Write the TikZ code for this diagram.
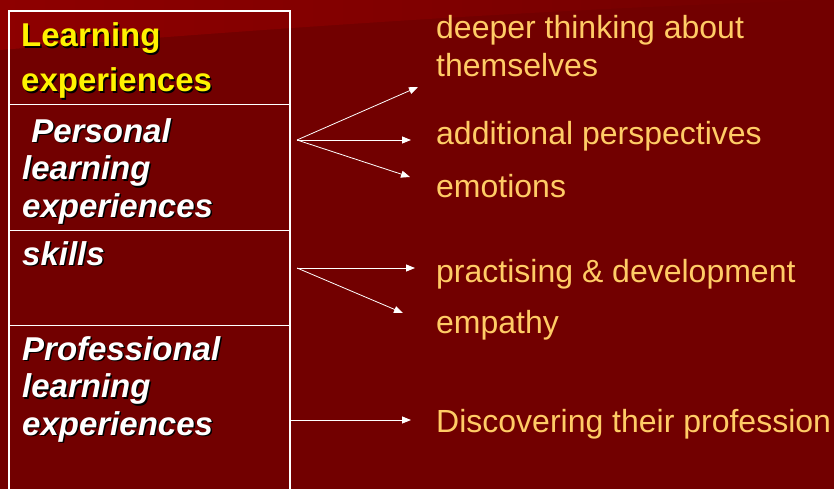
\documentclass[tikz,border=0pt]{standalone}
\usepackage{fontspec}
\setmainfont{Liberation Sans}
\usetikzlibrary{arrows.meta}

\definecolor{slidered}{RGB}{114,0,0}
\definecolor{slidelight}{RGB}{142,0,0}
\definecolor{itemorange}{RGB}{255,204,102}

% text with a small dark drop shadow
\newcommand{\shadowed}[1]{\leavevmode\rlap{\kern1.5pt\raisebox{-1.5pt}{\color{black}#1}}#1}

\tikzset{
    headtext/.style={anchor=base west, inner sep=0pt, align=left, text=yellow,
        font=\fontsize{33}{45}\selectfont\bfseries},
    rowtext/.style={anchor=base west, inner sep=0pt, align=left, text=white,
        font=\fontsize{33}{37.5}\selectfont\bfseries\itshape},
    itemtext/.style={anchor=base west, inner sep=0pt, align=left, text=itemorange,
        font=\fontsize{32}{38}\selectfont},
    link/.style={draw=white, line width=0.8pt, -{Triangle[length=9pt,width=7pt]}}
}

\begin{document}
\begin{tikzpicture}[x=1pt,y=-1pt]

    % background of the slide
    \fill[slidered] (0,0) rectangle (834,489);
    \shade[left color=slidelight, right color=slidered]
        (0,0) -- (0,50) .. controls (250,30) and (550,8) .. (834,0) -- cycle;
    \useasboundingbox (0,0) rectangle (834,489);

    % the table on the left
    \draw[white, line width=2pt] (9,500) -- (9,11) -- (290,11) -- (290,500);
    \draw[white, line width=1pt] (9,105) -- (290,105);
    \draw[white, line width=1pt] (9,230) -- (290,230);
    \draw[white, line width=1pt] (9,325) -- (290,325);

    % cells (nodes sit on the baseline of their last line)
    \node[headtext] (head) at (21,92) {\shadowed{Learning}\\\shadowed{experiences}};
    \node[rowtext] (pers) at (22,217) {\shadowed{\ Personal}\\\shadowed{learning}\\\shadowed{experiences}};
    \node[rowtext] (skl) at (22,265) {\shadowed{skills}};
    \node[rowtext] (prof) at (22,435) {\shadowed{Professional}\\\shadowed{learning}\\\shadowed{experiences}};

    % outcomes on the right
    \node[itemtext] (deeper) at (436,77) {deeper thinking about\\themselves};
    \node[itemtext] (persp) at (436,145) {additional perspectives};
    \node[itemtext] (emot) at (436,197) {emotions};
    \node[itemtext] (pract) at (436,282) {practising \& development};
    \node[itemtext] (empa) at (436,333) {empathy};
    \node[itemtext] (disc) at (436,432) {Discovering their profession};

    % arrow ends
    \coordinate (pers-out) at (297,140);
    \coordinate (skl-out) at (297,268);
    \coordinate (prof-out) at (291,420);
    \coordinate (deeper-in) at (418,87);
    \coordinate (persp-in) at (411,140);
    \coordinate (emot-in) at (410,177);
    \coordinate (pract-in) at (415,268);
    \coordinate (empa-in) at (403,313);
    \coordinate (disc-in) at (411,420);

    \draw[link] (pers-out) -- (deeper-in);
    \draw[link] (pers-out) -- (persp-in);
    \draw[link] (pers-out) -- (emot-in);
    \draw[link] (skl-out) -- (pract-in);
    \draw[link] (skl-out) -- (empa-in);
    \draw[link] (prof-out) -- (disc-in);

\end{tikzpicture}
\end{document}
